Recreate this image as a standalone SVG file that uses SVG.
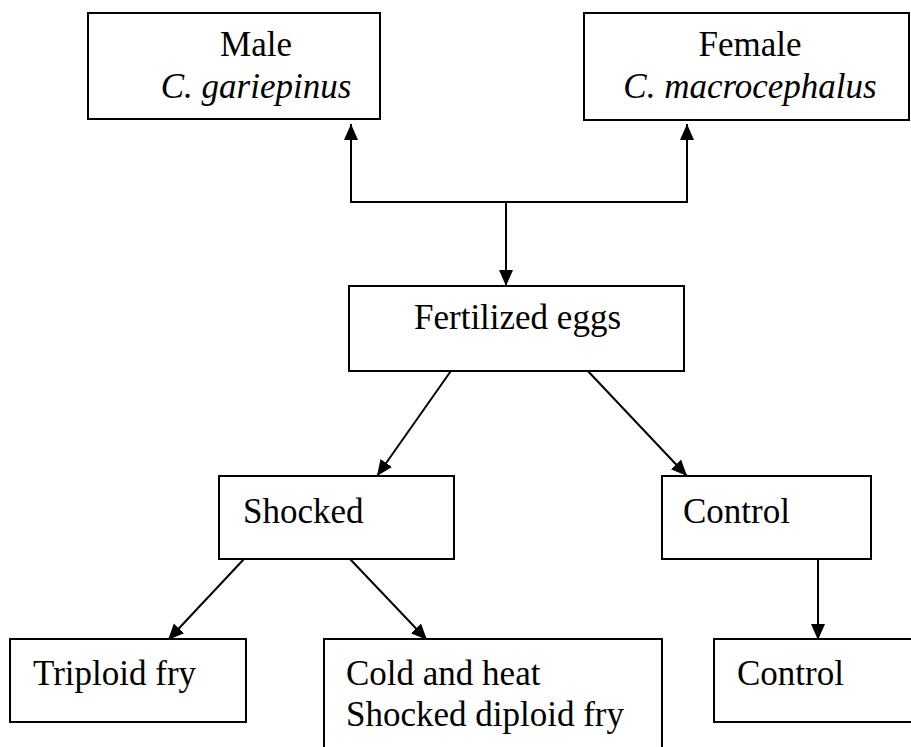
<svg xmlns="http://www.w3.org/2000/svg" width="911" height="747" viewBox="0 0 911 747">
<style>
.box{fill:#fff;stroke:#000;stroke-width:2}
.t{font-family:"Liberation Serif","Times New Roman",serif;font-size:35px;fill:#000}
.i{font-style:italic}
.c{fill:none;stroke:#000;stroke-width:2}
</style>
<defs>
<marker id="ah" markerUnits="userSpaceOnUse" markerWidth="18" markerHeight="16" refX="16" refY="7" orient="auto">
<path d="M0,0 L16,7 L0,14 z" fill="#000"/>
</marker>
</defs>
<rect width="911" height="747" fill="#fff"/>
<g id="connectors">
<path class="c" d="M506,202 L351,202 L351,124" marker-end="url(#ah)"/>
<path class="c" d="M506,202 L687,202 L687,124" marker-end="url(#ah)"/>
<path class="c" d="M506,202 L506,286" marker-end="url(#ah)"/>
<path class="c" d="M453,368 L377,476" marker-end="url(#ah)"/>
<path class="c" d="M585,368 L687,476" marker-end="url(#ah)"/>
<path class="c" d="M244,559 L168,640" marker-end="url(#ah)"/>
<path class="c" d="M350,559 L427,640" marker-end="url(#ah)"/>
<path class="c" d="M818,554 L818,640" marker-end="url(#ah)"/>
</g>
<g id="male">
<rect class="box" x="88" y="13" width="292" height="106"/>
<text class="t" x="256" y="56" text-anchor="middle">Male</text>
<text class="t i" x="256" y="98" text-anchor="middle">C. gariepinus</text>
</g>
<g id="female">
<rect class="box" x="584" y="13" width="325" height="107"/>
<text class="t" x="750" y="56" text-anchor="middle">Female</text>
<text class="t i" x="750" y="98" text-anchor="middle">C. macrocephalus</text>
</g>
<g id="fertilized">
<rect class="box" x="349" y="286" width="335" height="85"/>
<text class="t" x="414" y="329">Fertilized eggs</text>
</g>
<g id="shocked">
<rect class="box" x="219" y="476" width="235" height="83"/>
<text class="t" x="243" y="523">Shocked</text>
</g>
<g id="control1">
<rect class="box" x="662" y="476" width="209" height="83"/>
<text class="t" x="683" y="523">Control</text>
</g>
<g id="triploid">
<rect class="box" x="10" y="639" width="236" height="83"/>
<text class="t" x="33" y="685">Triploid fry</text>
</g>
<g id="diploid">
<rect class="box" x="324" y="639" width="338" height="115"/>
<text class="t" x="346" y="685">Cold and heat</text>
<text class="t" x="346" y="726">Shocked diploid fry</text>
</g>
<g id="control2">
<rect class="box" x="714" y="639" width="205" height="83"/>
<text class="t" x="737" y="685">Control</text>
</g>
</svg>
